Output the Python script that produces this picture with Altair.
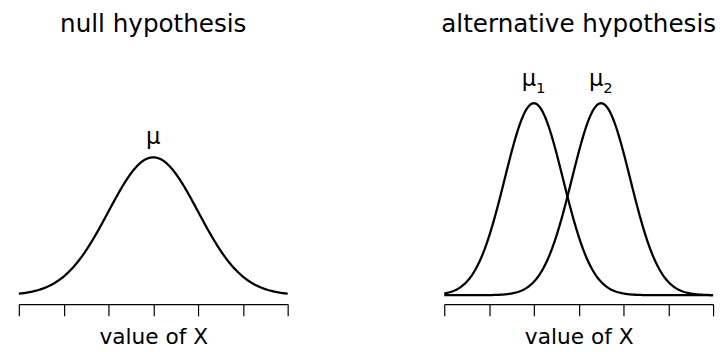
import numpy as np
import pandas as pd
import altair as alt

# ---- values ----
panel_titles = ["null hypothesis", "alternative hypothesis"]
null_means = [0.0]
null_sds = [1.0]
null_subs = [""]
alt_means = [-1.0, 0.5]
alt_sds = [0.65, 0.65]
alt_subs = ["1", "2"]
x_ticks = [-3, -2, -1, 0, 1, 2, 3]
x_range = [-3, 3]
y_max = [0.7266, 0.8027]  # y scale top for each panel
axis_title = "value of X"

FONT = "DejaVu Sans"
x_grid = np.linspace(x_range[0], x_range[1], 301)


def curve_table(means, sds):
    rows = []
    for i, (m, s) in enumerate(zip(means, sds)):
        dens = np.exp(-0.5 * ((x_grid - m) / s) ** 2) / (s * np.sqrt(2 * np.pi))
        for xv, dv in zip(x_grid, dens):
            rows.append({"curve": i, "x": float(xv), "density": float(dv)})
    return pd.DataFrame(rows)


def label_table(means, sds, subs):
    return pd.DataFrame({
        "x": means,
        "peak": [1 / (s * np.sqrt(2 * np.pi)) for s in sds],
        "mu": ["μ"] * len(means),
        "sub": subs,
    })


def panel(title, means, sds, subs, ymax, mu_dy, mu_dx, sub_dx, sub_dy):
    xs = alt.Scale(domain=x_range, nice=False, zero=False)
    ys = alt.Scale(domain=[0, ymax], nice=False, zero=True)
    xaxis = alt.Axis(values=x_ticks, labels=False, tickSize=12, tickColor="black",
                     domainColor="black", tickWidth=1.2, domainWidth=1.2, grid=False,
                     offset=9, title=axis_title, titleFont=FONT, titleFontSize=22,
                     titleFontWeight="normal", titleColor="black", titlePadding=10)
    lines = alt.Chart(curve_table(means, sds)).mark_line(
        color="black", strokeWidth=2.3, clip=False
    ).encode(
        x=alt.X("x:Q", scale=xs, axis=xaxis),
        y=alt.Y("density:Q", scale=ys, axis=None),
        detail="curve:N",
    )
    lab = label_table(means, sds, subs)
    mu = alt.Chart(lab).mark_text(
        font=FONT, fontSize=23, color="black", dy=mu_dy, dx=mu_dx, baseline="alphabetic"
    ).encode(x=alt.X("x:Q", scale=xs), y=alt.Y("peak:Q", scale=ys, axis=None),
             text="mu:N")
    layers = [lines, mu]
    if any(subs):
        sub = alt.Chart(lab).mark_text(
            font=FONT, fontSize=15, color="black", dy=sub_dy, dx=sub_dx, baseline="alphabetic"
        ).encode(x=alt.X("x:Q", scale=xs), y=alt.Y("peak:Q", scale=ys, axis=None),
                 text="sub:N")
        layers.append(sub)
    return alt.layer(*layers).properties(
        width=273, height=255,
        title=alt.TitleParams(title, font=FONT, fontSize=25, fontWeight="normal",
                              color="black", anchor="middle", offset=7),
    )


left = panel(panel_titles[0], null_means, null_sds, null_subs, y_max[0], -14, 0, 0, 0)
right = panel(panel_titles[1], alt_means, alt_sds, alt_subs, y_max[1], -17, -5, 7, -10)

chart = alt.hconcat(left, right, spacing=159, bounds="flush").properties(
    padding={"left": 6, "top": 2, "right": 0, "bottom": 0},
    background="white",
).configure_view(stroke=None)

chart.save("out.html", embed_options={"renderer": "svg", "actions": False})
